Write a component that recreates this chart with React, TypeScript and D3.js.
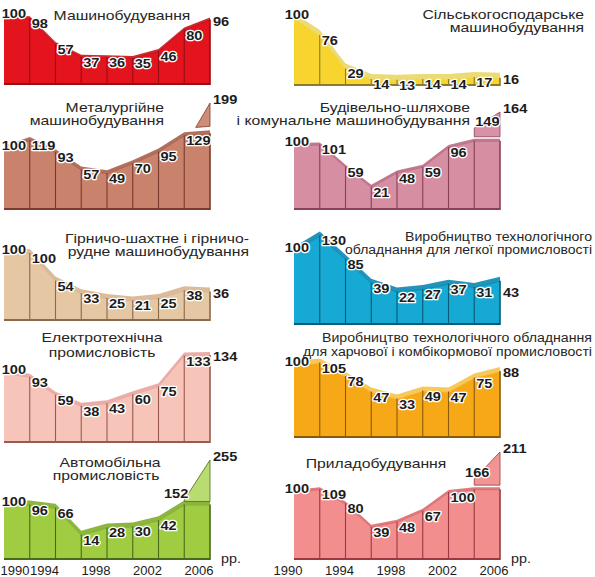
import React from "react";
import * as d3 from "d3";

// years of the index points (1990 = 100)
const years = [1990, 1992, 1994, 1996, 1998, 2000, 2002, 2004, 2006];
const tickYears = [1990, 1994, 1998, 2002, 2006];

const machineBuilding = [100, 98, 57, 37, 36, 35, 46, 80, 96];
const agricultural = [100, 76, 29, 14, 13, 14, 14, 17, 16];
const metallurgical = [100, 119, 93, 57, 49, 70, 95, 129, 199];
const roadBuilding = [100, 101, 59, 21, 48, 59, 96, 149, 164];
const mining = [100, 100, 54, 33, 25, 21, 25, 38, 36];
const lightIndustry = [100, 130, 85, 39, 22, 27, 37, 31, 43];
const electrical = [100, 93, 59, 38, 43, 60, 75, 133, 134];
const foodIndustry = [100, 105, 78, 47, 33, 49, 47, 75, 88];
const automotive = [100, 96, 66, 14, 28, 30, 42, 152, 255];
const instruments = [100, 109, 80, 39, 48, 67, 100, 166, 211];

const columns: [number, number][] = [
  [4, 210],
  [294, 500],
];
const yearShift = [-11, -6];

type Anchor = "start" | "middle" | "end";

interface PanelSpec {
  values: number[];
  title: string[];
  titleX: number[];
  titleY: number[];
  titleAnchor: Anchor;
  titleFit?: boolean; // titles squeezed to end at the right edge
  col: number;
  base: number;
  y100: number;
  k: number; // px per unit
  fill: string;
  ribbon: string;
  edge: string;
  rib: number;
  cap?: number;
  upper?: [number, number];
  gap?: number;
  pieceFill?: string;
  upperAnchor?: Anchor;
  lastDy?: number;
}

const panels: PanelSpec[] = [
  {
    values: machineBuilding,
    title: ["Машинобудування"],
    titleX: [122],
    titleY: [20],
    titleAnchor: "middle",
    col: 0,
    base: 85,
    y100: 17,
    k: 0.63,
    fill: "#e3141d",
    ribbon: "#c9111a",
    edge: "#9a0c12",
    rib: 3,
  },
  {
    values: agricultural,
    title: ["Сільськогосподарське", "машинобудування"],
    titleX: [584, 584],
    titleY: [19, 32],
    titleAnchor: "end",
    col: 1,
    base: 86,
    y100: 18,
    k: 0.71,
    fill: "#f7d52e",
    ribbon: "#ead766",
    edge: "#8d7b28",
    rib: 6,
  },
  {
    values: metallurgical,
    title: ["Металургійне", "машинобудування"],
    titleX: [164, 164],
    titleY: [112, 125],
    titleAnchor: "end",
    col: 0,
    base: 210,
    y100: 149,
    k: 0.475,
    fill: "#c9836c",
    ribbon: "#a9604c",
    edge: "#7a3a2c",
    rib: 4,
    cap: 133,
    upper: [147, 103],
    gap: 7,
    pieceFill: "#cf8c76",
  },
  {
    values: roadBuilding,
    title: ["Будівельно-шляхове", "і комунальне машинобудування"],
    titleX: [470, 470],
    titleY: [112, 125],
    titleAnchor: "end",
    col: 1,
    base: 210,
    y100: 145,
    k: 0.53,
    fill: "#d68ea2",
    ribbon: "#b96b84",
    edge: "#8a4058",
    rib: 3,
    cap: 108,
    upper: [128, 112],
    gap: 4,
    pieceFill: "#d892a6",
    upperAnchor: "start",
  },
  {
    values: mining,
    title: ["Гірничо-шахтне і гірничо-", "рудне машинобудування"],
    titleX: [249, 249],
    titleY: [243, 256],
    titleAnchor: "end",
    col: 0,
    base: 321,
    y100: 253,
    k: 0.6,
    fill: "#e5c7a3",
    ribbon: "#d8b48e",
    edge: "#8a6a4a",
    rib: 5,
    lastDy: 7,
  },
  {
    values: lightIndustry,
    title: ["Виробництво технологічного", "обладнання для легкої промисловості"],
    titleX: [405, 345],
    titleY: [241, 254],
    titleAnchor: "start",
    titleFit: true,
    col: 1,
    base: 325,
    y100: 251,
    k: 0.52,
    fill: "#16a9d3",
    ribbon: "#0c87b0",
    edge: "#075a78",
    rib: 5,
    lastDy: 16,
  },
  {
    values: electrical,
    title: ["Електротехнічна", "промисловість"],
    titleX: [102, 102],
    titleY: [342, 357],
    titleAnchor: "middle",
    col: 0,
    base: 443,
    y100: 373,
    k: 0.53,
    fill: "#f7c4b9",
    ribbon: "#e8a59e",
    edge: "#9a5a50",
    rib: 4,
  },
  {
    values: foodIndustry,
    title: ["Виробництво технологічного обладнання", "для харчової і комбікормової промисловості"],
    titleX: [322, 303],
    titleY: [342, 356],
    titleAnchor: "start",
    titleFit: true,
    col: 1,
    base: 438,
    y100: 365,
    k: 0.5,
    fill: "#f6a817",
    ribbon: "#f6c24a",
    edge: "#8a5a08",
    rib: 5,
  },
  {
    values: automotive,
    title: ["Автомобільна", "промисловість"],
    titleX: [110, 106],
    titleY: [467, 480],
    titleAnchor: "middle",
    col: 0,
    base: 560,
    y100: 490,
    k: 0.52,
    fill: "#9fcc40",
    ribbon: "#80ae2c",
    edge: "#4a6a18",
    rib: 5,
    cap: 72,
    upper: [500, 460],
    gap: 3,
    pieceFill: "#b8dc70",
    upperAnchor: "end",
  },
  {
    values: instruments,
    title: ["Приладобудування"],
    titleX: [376],
    titleY: [468],
    titleAnchor: "middle",
    col: 1,
    base: 560,
    y100: 492,
    k: 0.57,
    fill: "#f28e8e",
    ribbon: "#d96c70",
    edge: "#9a3a40",
    rib: 3,
    cap: 105,
    upper: [479, 452],
    gap: 4,
    pieceFill: "#f39494",
    upperAnchor: "middle",
  },
];

type Pt = { x: number; y: number; v: number };

const FONT = "'Liberation Sans', Arial, sans-serif";

const labelStyle: React.CSSProperties = {
  fontFamily: FONT,
  fontSize: 13.5,
  fontWeight: 700,
  fill: "#1c1c1c",
  stroke: "#fff",
  strokeWidth: 2.6,
  paintOrder: "stroke",
  strokeLinejoin: "round",
};

const titleStyle: React.CSSProperties = {
  fontFamily: FONT,
  fontSize: 12.5,
  fill: "#262626",
};

function Panel({ p }: { p: PanelSpec }) {
  const [x0, x1] = columns[p.col];
  const x = d3
    .scaleLinear()
    .domain([years[0], years[years.length - 1]])
    .range([x0, x1]);
  const y = d3
    .scaleLinear()
    .domain([0, 100])
    .range([p.y100 + 100 * p.k, p.y100]);
  const cap = p.cap ?? Infinity;
  const n = years.length;

  const pts: Pt[] = years.map((yr, i) => ({
    x: x(yr),
    y: y(Math.min(p.values[i], cap)),
    v: p.values[i],
  }));

  const area = d3
    .area<Pt>()
    .x((d) => d.x)
    .y0(p.base)
    .y1((d) => d.y);
  const ribbon = d3
    .area<Pt>()
    .x((d) => d.x)
    .y0((d) => d.y + 1)
    .y1((d) => d.y + 1 - p.rib);

  // broken-axis piece for the last segment
  let piece: string | null = null;
  let yU: d3.ScaleLinear<number, number> | null = null;
  let upperLabel7 = false;
  if (p.upper) {
    const v7 = p.values[n - 2];
    const v8 = p.values[n - 1];
    yU = d3.scaleLinear().domain([v7, v8]).range(p.upper);
    const a = pts[n - 2];
    const b = pts[n - 1];
    const gap = p.gap ?? 4;
    const bot7 = a.y - gap;
    const bot8 = b.y - gap;
    const top7 = yU(v7);
    const top8 = yU(v8);
    let poly: [number, number][];
    if (top7 <= bot7) {
      upperLabel7 = true;
      poly = [
        [a.x, bot7],
        [a.x, top7],
        [b.x, top8],
        [b.x, bot8],
      ];
    } else {
      const d7 = top7 - bot7;
      const d8 = top8 - bot8;
      const t = d7 / (d7 - d8);
      const xt = a.x + (b.x - a.x) * t;
      const yt = bot7 + (bot8 - bot7) * t;
      poly = [
        [xt, yt],
        [b.x, top8],
        [b.x, bot8],
      ];
    }
    piece = d3.line()(poly) + "Z";
  }

  return (
    <g>
      <path d={area(pts) ?? ""} fill={p.fill} />
      <path d={ribbon(pts) ?? ""} fill={p.ribbon} opacity={0.9} />
      {pts.slice(1).map((d, i) => (
        <line
          key={i}
          x1={d.x}
          x2={d.x}
          y1={d.y}
          y2={p.base}
          stroke={p.edge}
          strokeWidth={i === n - 2 ? 1.6 : 1.1}
        />
      ))}
      <line
        x1={x0}
        x2={x1}
        y1={p.base - 1}
        y2={p.base - 1}
        stroke={p.edge}
        strokeWidth={2}
      />
      {piece && (
        <path
          d={piece}
          fill={p.pieceFill}
          stroke={p.edge}
          strokeWidth={0.8}
          strokeLinejoin="round"
        />
      )}
      {pts.map((d, i) => {
        let tx = d.x + 2;
        let ty = d.y + 10;
        let anchor: Anchor = "start";
        if (i === 0) {
          tx = Math.max(d.x + 15, 26);
          ty = d.y + 1;
          anchor = "end";
        } else if (i === n - 1) {
          tx = d.x + 3;
          ty = yU ? yU(d.v) + 1 : d.y + (p.lastDy ?? 6);
        } else if (i === n - 2 && yU && upperLabel7) {
          anchor = p.upperAnchor ?? "middle";
          tx = anchor === "start" ? d.x + 1 : anchor === "end" ? d.x + 4 : d.x + 3;
          ty = yU(d.v) - 2;
        }
        return (
          <text
            key={i}
            transform={`translate(${tx},${ty}) scale(1.08,1)`}
            textAnchor={anchor}
            style={labelStyle}
          >
            {d.v}
          </text>
        );
      })}
      {p.title.map((t, i) =>
        p.titleFit ? (
          <text
            key={t}
            x={p.titleX[i]}
            y={p.titleY[i]}
            textLength={592 - p.titleX[i]}
            lengthAdjust="spacingAndGlyphs"
            style={titleStyle}
          >
            {t}
          </text>
        ) : (
          <text
            key={t}
            transform={`translate(${p.titleX[i]},${p.titleY[i]}) scale(1.26,1)`}
            textAnchor={p.titleAnchor}
            style={titleStyle}
          >
            {t}
          </text>
        )
      )}
    </g>
  );
}

function YearAxis({ col }: { col: number }) {
  const [x0, x1] = columns[col];
  const x = d3
    .scaleLinear()
    .domain([years[0], years[years.length - 1]])
    .range([x0, x1]);
  return (
    <g style={{ ...titleStyle, fontSize: 13, fill: "#1c1c1c" }}>
      {tickYears.map((yr) => (
        <text
          key={yr}
          x={Math.max(x(yr) + yearShift[col], 15)}
          y={575}
          textAnchor="middle"
        >
          {yr}
        </text>
      ))}
      <text transform={`translate(${x1 + 11},563) scale(1.1,1)`}>рр.</text>
    </g>
  );
}

export default function App() {
  return (
    <div style={{ position: "absolute", left: 0, top: 0 }}>
      <svg width={595} height={577} style={{ display: "block", background: "#fff" }}>
        {panels.map((p, i) => (
          <Panel key={i} p={p} />
        ))}
        <YearAxis col={0} />
        <YearAxis col={1} />
      </svg>
    </div>
  );
}
